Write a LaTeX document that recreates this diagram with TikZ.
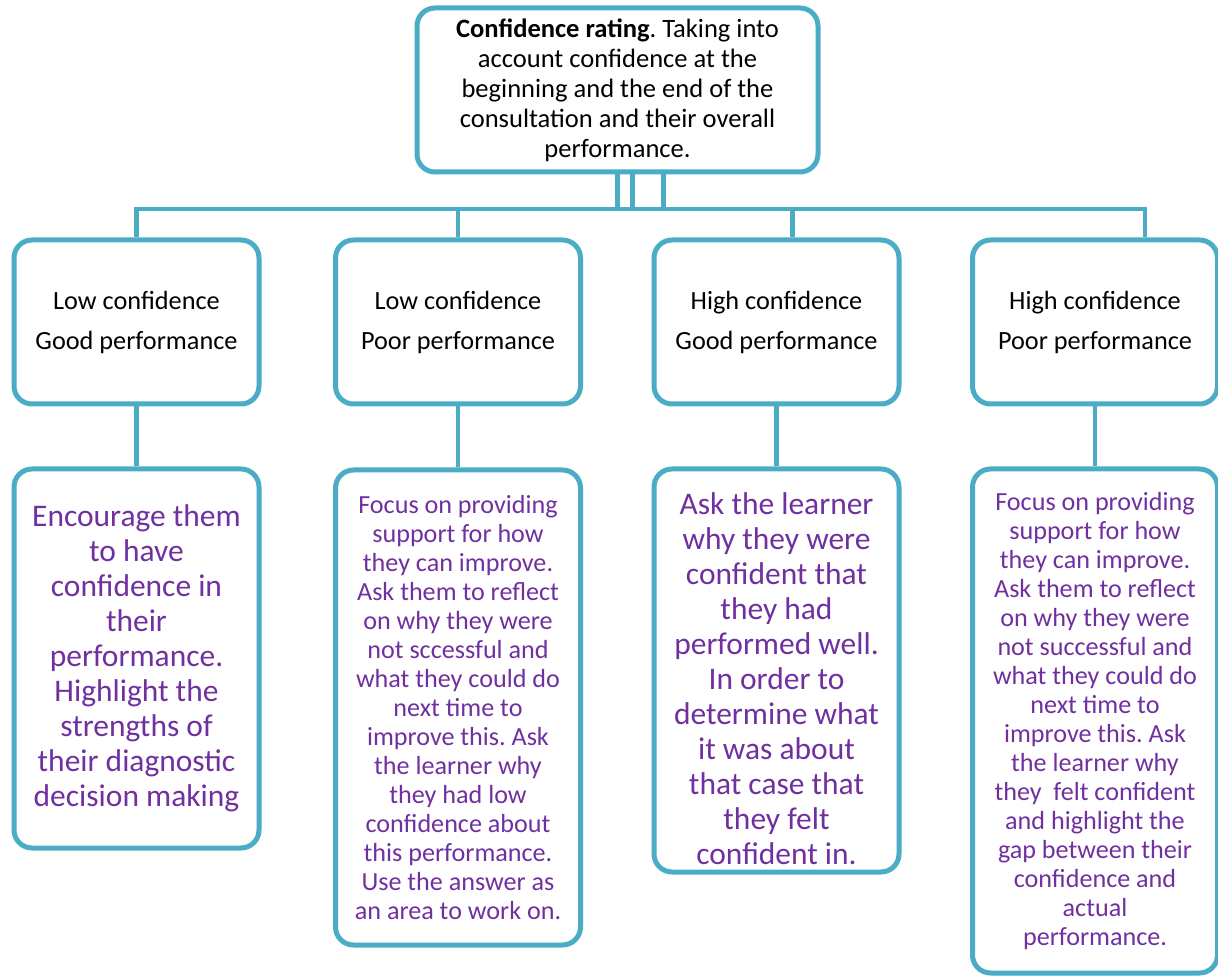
\documentclass[tikz,border=0pt]{standalone}
\usepackage{fontspec}
\setmainfont{Carlito}
\frenchspacing
\usetikzlibrary{calc}
\definecolor{tealline}{RGB}{75,172,198}
\definecolor{advice}{RGB}{112,48,160}
\tikzset{
  baseblock/.style={
    rectangle, rounded corners=13.5pt, draw=tealline, line width=3.75pt,
    fill=white, align=center, inner sep=2pt
  },
  rootblock/.style={baseblock, minimum width=300.75pt, minimum height=123pt,
    font=\fontsize{19.9pt}{22.5pt}\selectfont},
  rateblock/.style={baseblock, minimum width=183.75pt, minimum height=123pt,
    font=\fontsize{19.7pt}{30pt}\selectfont},
  adviceblock/.style={baseblock, minimum width=183.75pt, text=advice,
    font=\fontsize{19.6pt}{21.75pt}\selectfont},
  bigadvice/.style={adviceblock, font=\fontsize{23.6pt}{26.25pt}\selectfont},
  bigadvicetext/.style={text=advice, align=center, inner sep=2pt,
    font=\fontsize{23.6pt}{26.25pt}\selectfont},
  treeline/.style={draw=tealline, line width=3.4pt}
}
\begin{document}
\begin{tikzpicture}[x=0.75pt, y=-0.75pt]
  \useasboundingbox (0,0) rectangle (1218,980);

  \node[rootblock] (rating) at (617.5,90) {
    \textbf{Confidence rating}. Taking into\\
    account confidence at the\\
    beginning and the end of the\\
    consultation and their overall\\
    performance.
  };

  \node[rateblock] (lowgood) at (136.5,322) {Low confidence\\Good performance};
  \node[rateblock] (lowpoor) at (458,322) {Low confidence\\Poor performance};
  \node[rateblock] (highgood) at (776.5,322) {High confidence\\Good performance};
  \node[rateblock] (highpoor) at (1095,322) {High confidence\\Poor performance};

  \node[bigadvice, minimum height=284.25pt] (lowgood_tip) at (136.5,658.5) {
    Encourage them\\ to have\\ confidence in\\ their\\ performance.\\
    Highlight the\\ strengths of\\ their diagnostic\\ decision making
  };
  \node[adviceblock, minimum height=356.25pt] (lowpoor_tip) at (458,707.5) {
    Focus on providing\\ support for how\\ they can improve.\\
    Ask them to reflect\\ on why they were\\ not sccessful and\\
    what they could do\\ next time to\\ improve this. Ask\\
    the learner why\\ they had low\\ confidence about\\
    this performance.\\ Use the answer as\\ an area to work on.
  };
  \node[baseblock, minimum width=183.75pt, minimum height=302.25pt,
    label={[bigadvicetext, yshift=-6.5pt]center:{
      Ask the learner\\ why they were\\ confident that\\ they had\\
      performed well.\\ In order to\\ determine what\\ it was about\\
      that case that\\ they felt\\ confident in.}}] (highgood_tip) at (776.5,670.5) {};
  \node[adviceblock, minimum height=378pt] (highpoor_tip) at (1095,721) {
    Focus on providing\\ support for how\\ they can improve.\\
    Ask them to reflect\\ on why they were\\ not successful and\\
    what they could do\\ next time to\\ improve this. Ask\\
    the learner why\\ they\ \ felt confident\\ and highlight the\\
    gap between their\\ confidence and\\ actual\\ performance.
  };

  \coordinate (bus) at (0,209);
  \coordinate (dropC) at ($(highgood.north)+(16,0)$);
  \coordinate (dropD) at ($(highpoor.north)+(50,0)$);

  \draw[treeline] (rating.south) -- (rating.south |- bus);
  \draw[treeline] ($(rating.south)+(15,0)$) -- ($(rating.south |- bus)+(15,0)$);
  \draw[treeline] ($(rating.south)+(46,0)$) -- ($(rating.south |- bus)+(46,0)$);
  \draw[treeline] (lowgood.north) -- (lowgood.north |- bus) -- (dropD |- bus) -- (dropD);
  \draw[treeline] (lowpoor.north) -- (lowpoor.north |- bus);
  \draw[treeline] (dropC) -- (dropC |- bus);

  \draw[treeline] (lowgood) -- (lowgood_tip);
  \draw[treeline] (lowpoor) -- (lowpoor_tip);
  \draw[treeline] (highgood) -- (highgood_tip);
  \draw[treeline] (highpoor) -- (highpoor_tip);
\end{tikzpicture}
\end{document}
